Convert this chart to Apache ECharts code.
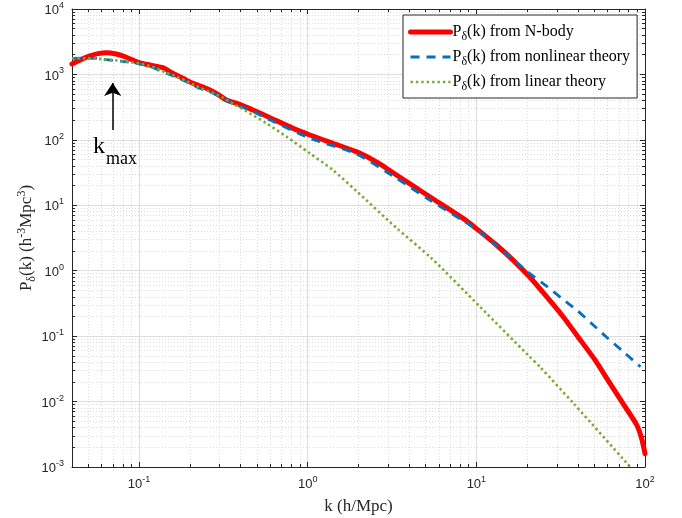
<!DOCTYPE html>
<html><head><meta charset="utf-8">
<script src="https://cdn.jsdelivr.net/npm/echarts@6/dist/echarts.min.js"></script>
<style>html,body{margin:0;padding:0;background:#fff}#c{width:682px;height:518px}</style>
</head><body><div id="c"></div>
<script>
// ---- data ----
const kNbody = [0.040, 0.045, 0.051, 0.057, 0.064, 0.073, 0.084, 0.0985, 0.110, 0.121, 0.138, 0.158, 0.182, 0.209, 0.25, 0.287, 0.33, 0.395, 0.473, 0.581, 0.818, 1.03, 1.41, 1.94, 2.6, 3.36, 5.29, 8.34, 10, 13.2, 16.5, 20.7, 25.5, 32.7, 40, 50.5, 59.3, 74.3, 89.3, 95.6, 100];
const pNbody = [1443, 1680, 1914, 2080, 2150, 2050, 1830, 1530, 1430, 1360, 1268, 1040, 871, 731, 614, 513, 406, 349, 286, 226, 150, 118.6, 88.5, 66, 45, 29, 13.5, 6.3, 4.4, 2.45, 1.45, 0.8, 0.43, 0.198, 0.098, 0.0433, 0.0227, 0.0092, 0.0044, 0.0027, 0.0016];

const kNonlin = [0.040, 0.050, 0.0557, 0.0608, 0.0798, 0.100, 0.110, 0.121, 0.145, 0.158, 0.191, 0.228, 0.262, 0.314, 0.377, 0.453, 0.569, 1.03, 1.94, 3.36, 5.29, 8.34, 10, 13.2, 19.8, 20.7, 26.1, 32, 39.3, 49.3, 59.3, 74.3, 94];
const pNonlin = [1763, 1770, 1763, 1700, 1585, 1460, 1377, 1268, 1040, 955, 774, 614, 545, 431, 341, 286, 214, 106, 60.8, 25.8, 12, 5.8, 4.3, 2.4, 1.0, 0.91, 0.58, 0.38, 0.251, 0.148, 0.096, 0.058, 0.034];

const kLinear = [0.040, 0.050, 0.0608, 0.0798, 0.100, 0.121, 0.145, 0.158, 0.191, 0.228, 0.262, 0.314, 0.377, 0.453, 0.569, 0.748, 1.028, 1.41, 1.944, 3.36, 5.42, 10.5, 20.7, 23.8, 37.5, 81.5];
const pLinear = [1763, 1770, 1710, 1600, 1470, 1300, 1060, 980, 790, 630, 550, 440, 335, 255, 179, 112, 62.4, 34.6, 16.5, 4.5, 1.55, 0.282, 0.0485, 0.034, 0.0095, 0.00101];

const seriesNames = ['nbody', 'nonlin', 'linear'];
const legendLabels = {
  nbody: '{n|P}{sub|δ}{n|(k) from N-body}',
  nonlin: '{n|P}{sub|δ}{n|(k) from nonlinear theory}',
  linear: '{n|P}{sub|δ}{n|(k) from linear theory}'
};
const xTickExponents = [-1, 0, 1, 2];
const yTickExponents = [-3, -2, -1, 0, 1, 2, 3, 4];
const xRange = [0.04, 100];
const yRange = [0.001, 10000];
// annotation (data units)
const kmaxK = 0.0697;
const kmaxArrow = [141, 740];

// ---- styles ----
const AX = '#262626';
const SERIF = 'Liberation Serif';
const styleN = { color: '#ff0000', width: 5, cap: 'round', join: 'round' };
const styleNL = { color: '#0072BD', width: 2.8, type: [9, 7] };
const styleL = { color: '#77AC30', width: 2.6, type: [2.4, 3] };

// ---- helpers ----
const zip = (a, b) => a.map((v, i) => [v, b[i]]);
function powLabel(exps) {
  return function (v) {
    const l = Math.log10(v);
    const e = Math.round(l);
    if (Math.abs(l - e) > 1e-6 || exps.indexOf(e) < 0) return '';
    return '{b|10}{s|' + e + '}';
  };
}
const labelRich = {
  b: { fontSize: 13, fontFamily: 'Liberation Sans', color: AX, lineHeight: 16, verticalAlign: 'bottom' },
  s: { fontSize: 9, fontFamily: 'Liberation Sans', color: AX, lineHeight: 9, verticalAlign: 'top' }
};
const gridLine = { show: true, lineStyle: { color: '#dedede', width: 1, type: 'solid' } };
const minorGrid = { show: true, lineStyle: { color: '#dcdcdc', width: 1, type: [1, 2] } };

function mainAxis(pos, exps, range, extra) {
  return Object.assign({
    type: 'log', logBase: 10, position: pos, min: range[0], max: range[1],
    axisLine: { show: true, onZero: false, lineStyle: { color: AX, width: 1 } },
    axisTick: { show: true, inside: true, length: 5, lineStyle: { color: AX } },
    minorTick: { show: true, splitNumber: 9, length: 3, lineStyle: { color: AX } },
    splitLine: gridLine,
    minorSplitLine: minorGrid,
    axisLabel: { show: true, formatter: powLabel(exps), rich: labelRich, color: AX, margin: 8 },
    nameMoveOverlap: false,
    z: 3
  }, extra || {});
}
function mirrorAxis(pos, range) {
  return {
    type: 'log', logBase: 10, position: pos, min: range[0], max: range[1],
    axisLine: { show: true, onZero: false, lineStyle: { color: AX, width: 1 } },
    axisTick: { show: true, inside: true, length: 5, lineStyle: { color: AX } },
    minorTick: { show: true, splitNumber: 9, length: 3, lineStyle: { color: AX } },
    splitLine: { show: false }, minorSplitLine: { show: false },
    axisLabel: { show: false }, z: 3
  };
}

const chart = echarts.init(document.getElementById('c'), null, { renderer: 'canvas' });
chart.setOption({
  animation: false,
  backgroundColor: '#fff',
  grid: { left: 72, right: 37, top: 9, bottom: 51, containLabel: false, outerBoundsMode: 'none' },
  xAxis: [
    mainAxis('bottom', xTickExponents, xRange, {
      name: 'k (h/Mpc)', nameLocation: 'middle', nameGap: 31,
      nameTextStyle: { fontFamily: SERIF, fontSize: 17, color: AX }
    }),
    mirrorAxis('top', xRange)
  ],
  yAxis: [
    mainAxis('left', yTickExponents, yRange, {
      name: '{n|P}{sub|δ}{n|(k) (h}{sup|-3}{n|Mpc}{sup|3}{n|)}', nameLocation: 'middle', nameGap: 34, nameRotate: 90,
      nameTextStyle: {
        fontFamily: SERIF, fontSize: 17, color: AX,
        rich: {
          n: { fontFamily: SERIF, fontSize: 17, color: AX, lineHeight: 22, verticalAlign: 'middle' },
          sub: { fontFamily: SERIF, fontSize: 12, color: AX, lineHeight: 7, verticalAlign: 'bottom' },
          sup: { fontFamily: SERIF, fontSize: 12, color: AX, lineHeight: 10, verticalAlign: 'top' }
        }
      }
    }),
    mirrorAxis('right', yRange)
  ],
  legend: {
    show: true, orient: 'vertical', left: 403, top: 15,
    data: [
      { name: seriesNames[0], lineStyle: { width: styleN.width } },
      { name: seriesNames[1], lineStyle: { width: styleNL.width } },
      { name: seriesNames[2], lineStyle: { width: styleL.width } }
    ],
    padding: [9, 7, 5, 5], itemGap: 6, itemWidth: 40, itemHeight: 14,
    borderColor: AX, borderWidth: 1, backgroundColor: '#fff',
    selectedMode: false,
    itemStyle: { opacity: 0 },
    formatter: n => legendLabels[n],
    textStyle: {
      fontFamily: SERIF, fontSize: 16, color: '#000', padding: [0, 0, 0, -3],
      rich: {
        n: { fontFamily: SERIF, fontSize: 16, color: '#000', lineHeight: 22, verticalAlign: 'middle' },
        sub: { fontFamily: SERIF, fontSize: 12, color: '#000', lineHeight: 7, verticalAlign: 'bottom' }
      }
    }
  },
  series: [
    {
      name: 'nbody', type: 'line', xAxisIndex: 0, yAxisIndex: 0,
      data: zip(kNbody, pNbody), symbol: 'none', showSymbol: false, smooth: 0.25,
      lineStyle: styleN, itemStyle: { color: styleN.color },
      z: 4, silent: true,
      markLine: {
        silent: true, symbol: ['none', 'arrow'], symbolSize: 13, precision: 6,
        label: { show: false },
        lineStyle: { color: '#000', width: 1.5, type: 'solid' },
        itemStyle: { color: '#000' },
        data: [[{ coord: [kmaxK, kmaxArrow[0]] }, { coord: [kmaxK, kmaxArrow[1]] }]]
      }
    },
    {
      name: 'nonlin', type: 'line', xAxisIndex: 0, yAxisIndex: 0,
      data: zip(kNonlin, pNonlin), symbol: 'none', showSymbol: false, smooth: 0.25,
      lineStyle: styleNL, itemStyle: { color: styleNL.color },
      z: 5, silent: true
    },
    {
      name: 'linear', type: 'line', xAxisIndex: 0, yAxisIndex: 0,
      data: zip(kLinear, pLinear), symbol: 'none', showSymbol: false, smooth: 0.25,
      lineStyle: styleL, itemStyle: { color: styleL.color },
      z: 6, silent: true
    }
  ],
  graphic: [
    { type: 'text', left: 93, top: 135, style: { text: 'k', font: '24px "Liberation Serif"', fill: '#000' }, z: 10 },
    { type: 'text', left: 106, top: 150, style: { text: 'max', font: '18px "Liberation Serif"', fill: '#000' }, z: 10 }
  ]
});
</script></body></html>
